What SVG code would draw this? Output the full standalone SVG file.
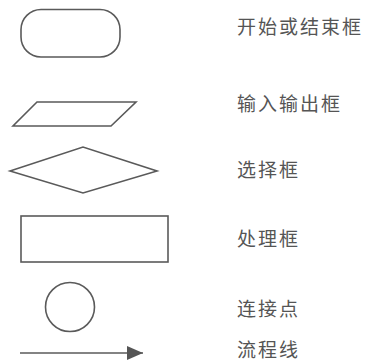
<svg xmlns="http://www.w3.org/2000/svg" width="377" height="362" viewBox="0 0 377 362">
<defs>
<style>
.s{fill:none;stroke:#5a5a5a;stroke-width:1.6}
.t{font-family:"Noto Sans CJK SC","Noto Sans",sans-serif;font-size:19px;fill:#555;letter-spacing:2px;dominant-baseline:central}
</style>
<marker id="ah" markerWidth="16" markerHeight="14" refX="16" refY="7" orient="auto" markerUnits="userSpaceOnUse">
<path d="M0,0 L16,7 L0,14 Z" fill="#555"/>
</marker>
</defs>
<rect width="377" height="362" fill="#fff"/>
<g id="terminal"><rect class="s" x="21" y="9.5" width="99" height="47.5" rx="20"/><text class="t" x="237" y="25">开始或结束框</text></g>
<g id="io"><polygon class="s" points="37,102 136,102 111,126 13,126"/><text class="t" x="237" y="102">输入输出框</text></g>
<g id="decision"><polygon class="s" points="10,171 83,147 157,171 83,193"/><text class="t" x="237" y="168">选择框</text></g>
<g id="process"><rect class="s" x="21" y="216" width="147" height="46"/><text class="t" x="237" y="237">处理框</text></g>
<g id="connector"><circle class="s" cx="70" cy="307" r="24.5"/><text class="t" x="237" y="307">连接点</text></g>
<g id="flowline"><text class="t" x="237" y="348">流程线</text></g>
<g id="connectors"><line class="s" x1="20" y1="353" x2="143" y2="353" stroke-width="2" marker-end="url(#ah)"/></g>
</svg>
